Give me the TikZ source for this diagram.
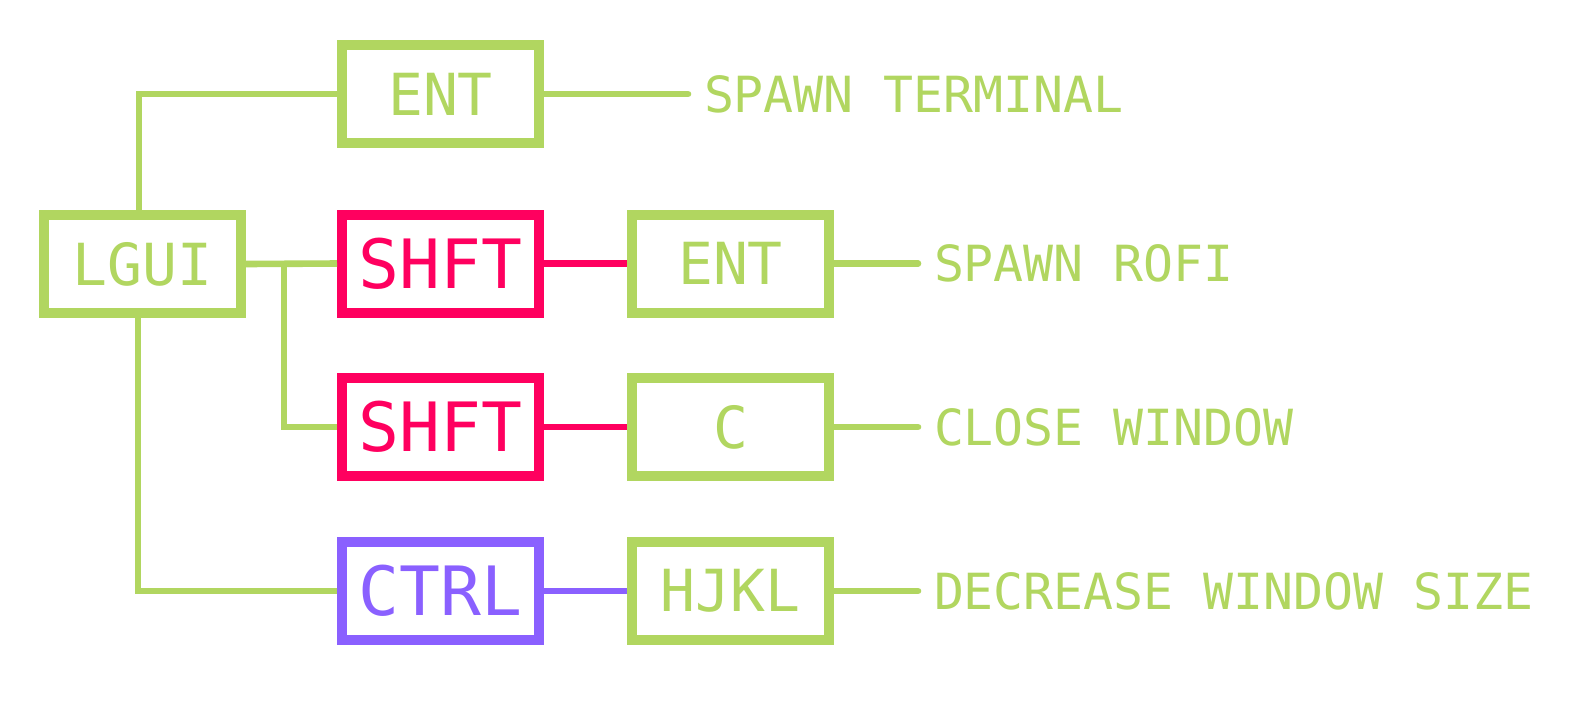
\documentclass[tikz,border=0pt]{standalone}
\usepackage{fontspec}
\newfontfamily\keyfont{DejaVu Sans Mono}
\usetikzlibrary{positioning}
\definecolor{keygreen}{RGB}{177,214,96}
\definecolor{keyred}{RGB}{255,0,95}
\definecolor{keypurple}{RGB}{138,96,255}

\begin{document}
\begin{tikzpicture}[x=0.5pt,y=-0.5pt,node distance=8pt,
	every node/.style={inner sep=0,outer sep=0},
	key/.style={draw=#1,line width=5pt,outer sep=2.5pt,minimum width=98.5pt,minimum height=49pt,text=#1,font=\keyfont\fontsize{29}{30}\selectfont},
	modkey/.style={key=#1,font=\keyfont\fontsize{34}{36}\selectfont},
	act/.style={text=keygreen,font=\keyfont\fontsize{24.9}{26}\selectfont},
	wire/.style={draw=#1,line width=3.3pt}]
	\fill[white] (0,0) rectangle (1590,714);
	% keys
	\node[key=keygreen] (lgui) at (142.5,264) {LGUI};
	\node[key=keygreen] (ent) at (440.5,94) {ENT};
	\node[modkey=keyred] (shft) at (440.5,263.5) {SHFT};
	\node[modkey=keyred] (shft2) at (440.5,427) {SHFT};
	\node[modkey=keypurple] (ctrl) at (440.5,591) {CTRL};
	\node[key=keygreen] (ent2) at (730.5,263.5) {ENT};
	\node[key=keygreen] (c) at (730.5,427) {C};
	\node[key=keygreen] (hjkl) at (730.5,591) {HJKL};
	% loose ends
	\coordinate (e1) at (688,94);
	\coordinate (e2) at (918,263.5);
	\coordinate (e3) at (918,427);
	\coordinate (e4) at (918,591);
	\coordinate (split) at (284,263.5);
	% actions
	\node[act,right=of e1] (a1) {SPAWN TERMINAL};
	\node[act,right=of e2] (a2) {SPAWN ROFI};
	\node[act,right=of e3] (a3) {CLOSE WINDOW};
	\node[act,right=of e4] (a4) {DECREASE WINDOW SIZE};
	% wires
	\draw[wire=keygreen] ([xshift=-1.75pt]lgui.north) |- (ent.west);
	\draw[wire=keygreen] ([xshift=-2.25pt]lgui.south) |- (ctrl.west);
	\draw[wire=keygreen] (split) |- (shft2.west);
	\path[wire=keygreen]
		(lgui.east) edge (shft.west);
	\path[wire=keyred]
		(shft.east) edge (ent2.west)
		(shft2.east) edge (c.west);
	\path[wire=keypurple]
		(ctrl.east) edge (hjkl.west);
	\path[wire=keygreen,line cap=round]
		(ent.east) edge (e1)
		(ent2.east) edge (e2)
		(c.east) edge (e3)
		(hjkl.east) edge (e4);
\end{tikzpicture}
\end{document}
